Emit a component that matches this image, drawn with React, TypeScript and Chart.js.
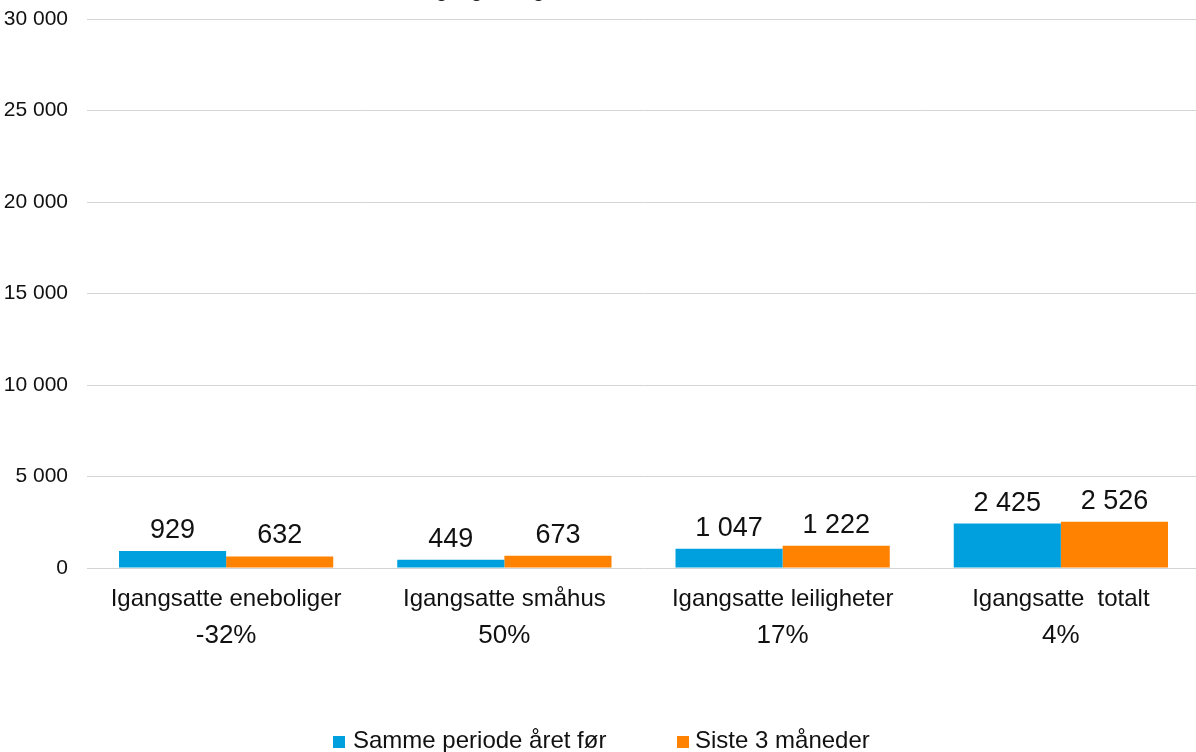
import React, { useEffect, useRef } from "react";
import { Chart, registerables } from "chart.js";

Chart.register(...registerables);

const FONT = 'Arial, "Liberation Sans", sans-serif';

const titleText = "Igangsetting – siste 3 måneder";
const categories = [
  "Igangsatte eneboliger",
  "Igangsatte småhus",
  "Igangsatte leiligheter",
  "Igangsatte  totalt",
];
const changeLabels = ["-32%", "50%", "17%", "4%"];
const seriesNames = ["Samme periode året før", "Siste 3 måneder"];
const previousYear = [929, 449, 1047, 2425];
const last3Months = [632, 673, 1222, 2526];
const seriesColors = ["#00A0DE", "#FF8200"];
const yMin = 0;
const yMax = 30000;
const yStep = 5000;

const fmt = (v: number) =>
  String(Math.round(v)).replace(/\B(?=(\d{3})+(?!\d))/g, " ");

const valueLabels = {
  id: "valueLabels",
  afterDatasetsDraw(chart: any) {
    const ctx = chart.ctx;
    ctx.save();
    ctx.font = `27px ${FONT}`;
    ctx.fillStyle = "#111";
    ctx.textAlign = "center";
    ctx.textBaseline = "alphabetic";
    chart.data.datasets.forEach((ds: any, i: number) => {
      const meta = chart.getDatasetMeta(i);
      meta.data.forEach((el: any, j: number) => {
        ctx.fillText(fmt(ds.data[j]), el.x, el.y - 13);
      });
    });
    ctx.restore();
  },
};

export default function App() {
  const canvasRef = useRef<HTMLCanvasElement | null>(null);

  useEffect(() => {
    if (!canvasRef.current) return;
    const chart = new Chart(canvasRef.current, {
      type: "bar",
      data: {
        labels: categories,
        datasets: [
          {
            label: seriesNames[0],
            data: previousYear,
            backgroundColor: seriesColors[0],
            categoryPercentage: 0.77,
            barPercentage: 1,
            xAxisID: "x",
          },
          {
            label: seriesNames[1],
            data: last3Months,
            backgroundColor: seriesColors[1],
            categoryPercentage: 0.77,
            barPercentage: 1,
            xAxisID: "x",
          },
        ],
      },
      options: {
        responsive: false,
        animation: false,
        devicePixelRatio: 1,
        layout: { padding: { left: 4, top: 19, right: 0, bottom: 101 } },
        plugins: {
          legend: { display: false },
          tooltip: { enabled: false },
          title: { display: false },
        },
        scales: {
          x: {
            type: "category",
            offset: true,
            weight: 0,
            grid: { display: false, drawTicks: false },
            border: { display: false },
            ticks: {
              font: { family: FONT, size: 24 },
              color: "#111",
              padding: 17,
              maxRotation: 0,
              autoSkip: false,
            },
            afterFit: (s: any) => {
              s.height = 45.8;
              s.paddingLeft = 0;
              s.paddingRight = 0;
            },
          },
          x2: {
            type: "category",
            position: "bottom",
            labels: changeLabels,
            offset: true,
            weight: 1,
            grid: { display: false, drawTicks: false },
            border: { display: false },
            ticks: {
              font: { family: FONT, size: 26 },
              color: "#111",
              padding: 6,
              maxRotation: 0,
              autoSkip: false,
            },
            afterFit: (s: any) => {
              s.height = 37.2;
              s.paddingLeft = 0;
              s.paddingRight = 0;
            },
          },
          y: {
            min: yMin,
            max: yMax,
            grid: { color: "#d4d4d4", lineWidth: 1, drawTicks: false },
            border: { display: false },
            ticks: {
              stepSize: yStep,
              font: { family: FONT, size: 21 },
              color: "#111",
              padding: 19,
              callback: (v: any) => fmt(Number(v)),
            },
            afterFit: (s: any) => {
              s.width = 83;
              s.paddingTop = 0;
              s.paddingBottom = 0;
            },
          },
        },
      } as any,
      plugins: [valueLabels],
    });
    return () => chart.destroy();
  }, []);

  return (
    <div
      style={{
        position: "fixed",
        left: 0,
        top: 0,
        width: 1196,
        height: 752,
        overflow: "hidden",
        background: "#fff",
        fontFamily: FONT,
      }}
    >
      <canvas
        ref={canvasRef}
        width={1200}
        height={752}
        style={{ position: "absolute", left: 0, top: 0, width: 1200, height: 752 }}
      />
      <div
        style={{
          position: "absolute",
          left: 430,
          top: -21,
          fontSize: 21,
          lineHeight: "21px",
          whiteSpace: "nowrap",
          color: "#111",
        }}
      >
        {titleText}
      </div>
      {seriesNames.map((name, i) => (
        <div
          key={name}
          style={{
            position: "absolute",
            left: i === 0 ? 333 : 677,
            top: 728,
            height: 24,
            display: "flex",
            alignItems: "flex-start",
            whiteSpace: "nowrap",
          }}
        >
          <span
            style={{
              display: "inline-block",
              width: 12,
              height: 12,
              marginTop: 8,
              background: seriesColors[i],
            }}
          />
          <span
            style={{
              marginLeft: i === 0 ? 8 : 6,
              fontSize: 24,
              lineHeight: "24px",
              color: "#111",
            }}
          >
            {name}
          </span>
        </div>
      ))}
    </div>
  );
}
